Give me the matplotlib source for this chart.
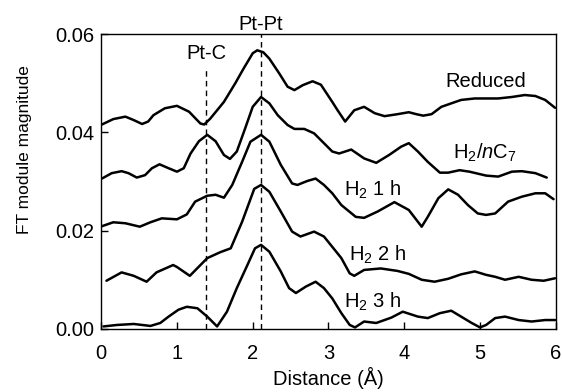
import matplotlib
matplotlib.use("Agg")
import matplotlib.pyplot as plt

plt.rcParams["font.family"] = ["Liberation Sans", "DejaVu Sans"]
plt.rcParams["mathtext.fontset"] = "custom"
plt.rcParams["mathtext.rm"] = "Liberation Sans"
plt.rcParams["mathtext.it"] = "Liberation Sans:italic"

# ---- FT magnitude curves (distance in Angstrom) ----
reduced_x = [0.01, 0.16, 0.32, 0.43, 0.54, 0.62, 0.69, 0.84, 1.00, 1.16, 1.31, 1.36, 1.44, 1.62,
             1.77, 1.88, 2.00, 2.06, 2.14, 2.22, 2.35, 2.46, 2.55, 2.66, 2.79, 2.90, 3.05, 3.12,
             3.22, 3.34, 3.47, 3.61, 3.74, 3.91, 4.06, 4.16, 4.25, 4.36, 4.49, 4.62, 4.75, 4.93,
             5.08, 5.24, 5.42, 5.59, 5.73, 5.86, 5.99]
reduced_y = [0.0416, 0.0427, 0.0432, 0.0425, 0.0417, 0.0422, 0.0435, 0.0449, 0.0454, 0.0442,
             0.0418, 0.0416, 0.0428, 0.0462, 0.0500, 0.0530, 0.0561, 0.0567, 0.0563, 0.0550,
             0.0520, 0.0493, 0.0486, 0.0496, 0.0504, 0.0497, 0.0462, 0.0445, 0.0422, 0.0445,
             0.0452, 0.0439, 0.0433, 0.0437, 0.0441, 0.0437, 0.0434, 0.0437, 0.0452, 0.0459,
             0.0466, 0.0469, 0.0469, 0.0469, 0.0472, 0.0476, 0.0474, 0.0466, 0.0450]

nc7_x = [0.01, 0.14, 0.27, 0.36, 0.47, 0.58, 0.67, 0.77, 0.89, 1.00, 1.09, 1.18, 1.29, 1.40,
         1.51, 1.62, 1.70, 1.79, 1.90, 2.00, 2.11, 2.22, 2.33, 2.46, 2.55, 2.68, 2.81, 2.94,
         3.05, 3.14, 3.30, 3.47, 3.63, 3.80, 3.96, 4.06, 4.18, 4.31, 4.47, 4.58, 4.73, 4.86,
         5.08, 5.24, 5.42, 5.55, 5.73, 5.88]
nc7_y = [0.0306, 0.0317, 0.0321, 0.0317, 0.0308, 0.0313, 0.0327, 0.0335, 0.0327, 0.0320,
         0.0327, 0.0357, 0.0382, 0.0395, 0.0382, 0.0354, 0.0346, 0.0361, 0.0408, 0.0452,
         0.0472, 0.0459, 0.0435, 0.0415, 0.0407, 0.0407, 0.0398, 0.0378, 0.0361, 0.0357,
         0.0365, 0.0347, 0.0338, 0.0354, 0.0371, 0.0378, 0.0361, 0.0340, 0.0318, 0.0318,
         0.0323, 0.0320, 0.0312, 0.0310, 0.0320, 0.0321, 0.0317, 0.0308]

h1_x = [0.01, 0.16, 0.32, 0.51, 0.65, 0.80, 1.00, 1.13, 1.24, 1.40, 1.51, 1.62, 1.73, 1.86,
        1.97, 2.11, 2.22, 2.37, 2.52, 2.59, 2.72, 2.83, 2.94, 3.05, 3.17, 3.36, 3.47, 3.65,
        3.87, 4.06, 4.16, 4.23, 4.31, 4.45, 4.58, 4.71, 4.84, 4.97, 5.08, 5.20, 5.37, 5.55,
        5.73, 5.86, 5.97]
h1_y = [0.0209, 0.0217, 0.0215, 0.0208, 0.0217, 0.0225, 0.0223, 0.0233, 0.0259, 0.0271,
        0.0273, 0.0267, 0.0293, 0.0340, 0.0381, 0.0395, 0.0381, 0.0334, 0.0296, 0.0293,
        0.0301, 0.0306, 0.0293, 0.0276, 0.0252, 0.0228, 0.0226, 0.0239, 0.0258, 0.0242,
        0.0222, 0.0208, 0.0228, 0.0266, 0.0284, 0.0273, 0.0252, 0.0235, 0.0232, 0.0235,
        0.0259, 0.0269, 0.0276, 0.0276, 0.0264]

h2_x = [0.07, 0.27, 0.43, 0.60, 0.73, 0.95, 1.00, 1.17, 1.40, 1.57, 1.71, 1.86, 2.02, 2.11,
        2.22, 2.37, 2.52, 2.63, 2.81, 2.94, 3.05, 3.17, 3.28, 3.34, 3.47, 3.69, 3.91, 4.06,
        4.23, 4.40, 4.58, 4.75, 4.93, 5.08, 5.20, 5.33, 5.51, 5.68, 5.84, 5.99]
h2_y = [0.0098, 0.0115, 0.0108, 0.0096, 0.0115, 0.0130, 0.0126, 0.0108, 0.0144, 0.0156,
        0.0164, 0.0218, 0.0285, 0.0293, 0.0279, 0.0239, 0.0198, 0.0188, 0.0198, 0.0188,
        0.0167, 0.0144, 0.0113, 0.0108, 0.0120, 0.0123, 0.0118, 0.0112, 0.0100, 0.0096,
        0.0102, 0.0111, 0.0117, 0.0110, 0.0106, 0.0100, 0.0106, 0.0100, 0.0098, 0.0103]

h3_x = [0.03, 0.21, 0.43, 0.65, 0.78, 0.89, 1.02, 1.13, 1.27, 1.40, 1.53, 1.66, 1.79, 1.93,
        2.03, 2.11, 2.22, 2.37, 2.48, 2.57, 2.70, 2.83, 2.94, 3.05, 3.17, 3.28, 3.35, 3.47,
        3.63, 3.83, 3.98, 4.18, 4.31, 4.47, 4.62, 4.75, 4.89, 5.00, 5.08, 5.20, 5.33, 5.51,
        5.68, 5.86, 5.99]
h3_y = [0.0005, 0.0008, 0.0010, 0.0006, 0.0012, 0.0025, 0.0039, 0.0045, 0.0042, 0.0025,
        0.0005, 0.0035, 0.0083, 0.0130, 0.0164, 0.0171, 0.0157, 0.0117, 0.0083, 0.0073,
        0.0086, 0.0096, 0.0083, 0.0062, 0.0032, 0.0008, 0.0003, 0.0015, 0.0012, 0.0023,
        0.0035, 0.0025, 0.0022, 0.0032, 0.0037, 0.0025, 0.0012, 0.0003, 0.0008, 0.0022,
        0.0025, 0.0018, 0.0015, 0.0018, 0.0018]

labels = ["Reduced", r"H$_2$/$n$C$_7$", r"H$_2$ 1 h", r"H$_2$ 2 h", r"H$_2$ 3 h"]
label_pos = [(5.07, 0.0504), (5.06, 0.0358), (3.58, 0.0283), (3.65, 0.0150), (3.58, 0.0055)]

PT_C, PT_PT = 1.385, 2.11

fig = plt.figure(figsize=(5.62, 3.92), dpi=100)
ax = fig.add_axes([0.18, 0.161, 0.809, 0.752])

for xs, ys in [(reduced_x, reduced_y), (nc7_x, nc7_y), (h1_x, h1_y), (h2_x, h2_y), (h3_x, h3_y)]:
    ax.plot(xs, ys, color="black", lw=1.8, solid_capstyle="round", solid_joinstyle="round")

for (lx, ly), txt in zip(label_pos, labels):
    ax.text(lx, ly, txt, ha="center", va="center", fontsize=14.5)

# bond markers
ax.plot([PT_C, PT_C], [0, 0.0527], color="black", lw=1.0, ls=(0, (4, 3)))
ax.plot([PT_PT, PT_PT], [0, 0.06], color="black", lw=1.0, ls=(0, (4, 3)))
ax.text(PT_C, 0.0561, "Pt-C", ha="center", va="center", fontsize=14.5)
ax.text(PT_PT, 0.0620, "Pt-Pt", ha="center", va="center", fontsize=14.5, clip_on=False)

ax.set_xlim(0, 6)
ax.set_ylim(0, 0.06)
ax.set_xticks(range(7))
ax.set_yticks([0, 0.02, 0.04, 0.06])
ax.set_yticklabels(["0.00", "0.02", "0.04", "0.06"])
ax.tick_params(direction="in", length=5, width=1, labelsize=14.5)
ax.tick_params(axis="x", pad=11)
ax.tick_params(axis="y", pad=5)
ax.set_xlabel("Distance (Å)", fontsize=14.5, labelpad=3)
ax.set_ylabel("FT module magnitude", fontsize=12.5)
ax.yaxis.set_label_coords(-0.152, 0.61)
for s in ax.spines.values():
    s.set_linewidth(1.0)

fig.savefig("out.png", dpi=100)
